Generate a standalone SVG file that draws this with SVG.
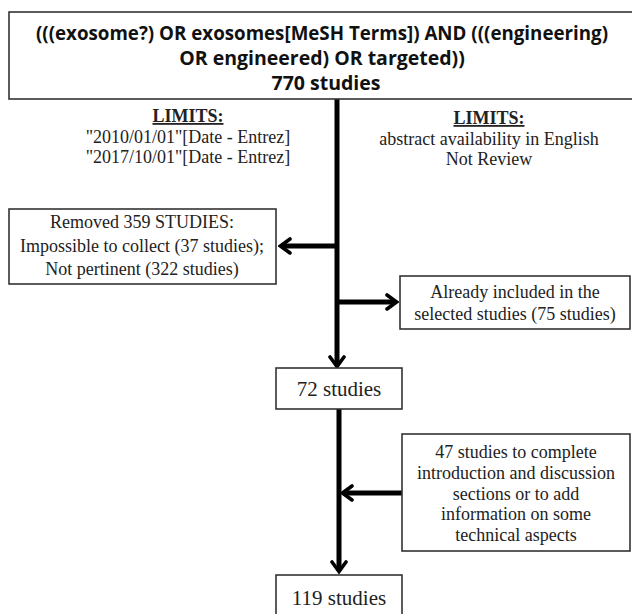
<svg xmlns="http://www.w3.org/2000/svg" width="632" height="614" viewBox="0 0 632 614">
<style>
.box{fill:#fff;stroke:#333;stroke-width:1.6}
.hd{font-family:"Open Sans","Liberation Sans",sans-serif;font-weight:bold;font-size:19.5px;fill:#111;text-anchor:middle}
.t{font-family:"Liberation Serif","Times New Roman",serif;font-size:18px;fill:#222;text-anchor:middle}
.tb{font-family:"Liberation Serif","Times New Roman",serif;font-size:18px;fill:#222;text-anchor:middle;font-weight:bold;text-decoration:underline}
.n{font-family:"Liberation Serif","Times New Roman",serif;font-size:21px;fill:#222;text-anchor:middle}
.ln{fill:none;stroke:#000;stroke-width:5}
</style>
<defs>
<marker id="ah" viewBox="0 0 14 18" refX="11" refY="9" markerWidth="14" markerHeight="18" markerUnits="userSpaceOnUse" orient="auto">
<path d="M2,2 L11.5,9 L2,16" fill="none" stroke="#000" stroke-width="3.6" stroke-linecap="round" stroke-linejoin="miter"/>
</marker>
</defs>
<g id="connectors">
<line class="ln" x1="337" y1="98" x2="337" y2="366" marker-end="url(#ah)"/>
<line class="ln" x1="337" y1="246" x2="281" y2="246" marker-end="url(#ah)"/>
<line class="ln" x1="337" y1="302" x2="396" y2="302" marker-end="url(#ah)"/>
<line class="ln" x1="339" y1="409" x2="339" y2="571" marker-end="url(#ah)"/>
<line class="ln" x1="402" y1="493" x2="343" y2="493" marker-end="url(#ah)"/>
</g>
<g id="search">
<rect class="box" x="9" y="12" width="640" height="87"/>
<text class="hd" x="322" y="40" textLength="572" lengthAdjust="spacingAndGlyphs">(((exosome?) OR exosomes[MeSH Terms]) AND (((engineering)</text>
<text class="hd" x="322" y="65">OR engineered) OR targeted))</text>
<text class="hd" x="326" y="90">770 studies</text>
</g>
<g id="limits-left">
<text class="tb" x="188" y="122">LIMITS:</text>
<text class="t" x="188" y="143">"2010/01/01"[Date - Entrez]</text>
<text class="t" x="188" y="163">"2017/10/01"[Date - Entrez]</text>
</g>
<g id="limits-right">
<text class="tb" x="489" y="124">LIMITS:</text>
<text class="t" x="489" y="145">abstract availability in English</text>
<text class="t" x="489" y="165">Not Review</text>
</g>
<g id="removed">
<rect class="box" x="9" y="209" width="267" height="75"/>
<text class="t" x="142" y="228">Removed 359 STUDIES:</text>
<text class="t" x="142" y="252">Impossible to collect (37 studies);</text>
<text class="t" x="142" y="275">Not pertinent (322 studies)</text>
</g>
<g id="already">
<rect class="box" x="400" y="276" width="230" height="53"/>
<text class="t" x="515" y="298">Already included in the</text>
<text class="t" x="515" y="320">selected studies (75 studies)</text>
</g>
<g id="s72">
<rect class="box" x="276" y="368" width="126" height="41"/>
<text class="n" x="339" y="396">72 studies</text>
</g>
<g id="s47">
<rect class="box" x="402" y="434" width="228" height="117"/>
<text class="t" x="516" y="458">47 studies to complete</text>
<text class="t" x="516" y="479">introduction and discussion</text>
<text class="t" x="516" y="500">sections or to add</text>
<text class="t" x="516" y="520">information on some</text>
<text class="t" x="516" y="541">technical aspects</text>
</g>
<g id="s119">
<rect class="box" x="276" y="575" width="126" height="50"/>
<text class="n" x="339" y="605">119 studies</text>
</g>
</svg>
